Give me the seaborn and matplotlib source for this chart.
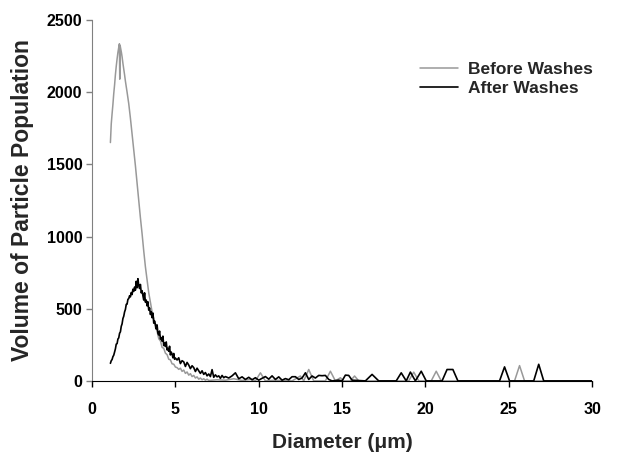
import matplotlib
matplotlib.use("Agg")
import matplotlib.pyplot as plt
import seaborn as sns
import pandas as pd

# ---- data ----
after_x = [1.10, 1.15, 1.20, 1.25, 1.30, 1.35, 1.40, 1.45, 1.50, 1.55, 1.60, 1.65, 1.70, 1.75,
           1.80, 1.85, 1.90, 1.95, 2.00, 2.05, 2.10, 2.15, 2.20, 2.25, 2.30, 2.35, 2.40, 2.45,
           2.50, 2.55, 2.60, 2.65, 2.70, 2.75, 2.80, 2.85, 2.90, 2.95, 3.00, 3.05, 3.10, 3.15,
           3.20, 3.25, 3.30, 3.35, 3.40, 3.45, 3.50, 3.55, 3.60, 3.65, 3.70, 3.75, 3.80, 3.85,
           3.90, 3.95, 4.00, 4.05, 4.10, 4.15, 4.20, 4.25, 4.30, 4.35, 4.40, 4.45, 4.50, 4.55,
           4.60, 4.65, 4.70, 4.75, 4.80, 4.85, 4.90, 4.95, 5.00,
           5.10, 5.20, 5.30, 5.40, 5.50, 5.60, 5.70, 5.80, 5.90, 6.00, 6.10, 6.20, 6.30, 6.40,
           6.50, 6.60, 6.70, 6.80, 6.90, 7.00, 7.10, 7.20, 7.30, 7.40, 7.50, 7.60, 7.70, 7.80,
           7.90, 8.00, 8.20, 8.40, 8.60, 8.80, 9.00, 9.20, 9.40, 9.60, 9.80, 10.00, 10.20, 10.40,
           10.60, 10.80, 11.00, 11.20, 11.40, 11.60, 11.80, 12.00, 12.20, 12.40, 12.60, 12.80,
           13.00, 13.20, 13.40, 13.60, 13.80, 14.00, 14.20, 14.40, 14.80, 15.00, 15.20, 15.40,
           15.60, 16.40, 16.80, 17.20, 18.25, 18.55, 18.85, 19.10, 19.40, 19.75, 20.05, 21.00,
           21.30, 21.65, 21.95, 24.45, 24.75, 25.05, 26.50, 26.80, 27.10, 30.00]
after_y = [122, 140, 148, 168, 178, 200, 222, 255, 258, 290, 298, 330, 340, 378,
           395, 432, 448, 478, 495, 530, 532, 565, 570, 590, 582, 612, 598, 635,
           620, 650, 628, 690, 645, 708, 660, 640, 668, 610, 625, 590, 560, 610,
           545, 560, 520, 548, 490, 505, 460, 480, 438, 470, 400, 415, 392, 360,
           388, 330, 318, 345, 290, 300, 275, 310, 245, 262, 238, 270, 215, 225,
           205, 240, 180, 200, 185, 160, 190, 150, 158,
           145, 160, 120, 140, 132, 100, 128, 110, 85, 105, 92, 65, 88, 70,
           52, 70, 45, 58, 35, 48, 30, 78, 25, 42, 28, 35, 18, 38,
           22, 30, 20, 35, 56, 15, 28, 10, 25, 8, 22, 5, 18, 30,
           12, 35, 10, 28, 5, 16, 8, 29, 29, 10, 20, 56,
           10, 34, 20, 38, 36, 38, 10, 0, 5, 0, 40, 38,
           5, 0, 45, 0, 0, 56, 0, 61, 0, 67, 0, 0,
           79, 79, 0, 0, 97, 0, 0, 115, 0, 0]

before_x = [1.10, 1.15, 1.20, 1.25, 1.30, 1.35, 1.40, 1.45, 1.50, 1.55, 1.60, 1.64, 1.66, 1.68,
            1.72, 1.76, 1.80, 1.85, 1.90, 1.95, 2.00, 2.10, 2.20, 2.30, 2.40, 2.50, 2.60, 2.70,
            2.80, 2.90, 3.00, 3.10, 3.20, 3.30, 3.40, 3.50, 3.60, 3.70, 3.80, 3.90, 4.00, 4.10,
            4.20, 4.30, 4.40, 4.50, 4.60, 4.70, 4.80, 4.90, 5.00, 5.10, 5.20, 5.30, 5.40, 5.50,
            5.60, 5.70, 5.80, 5.90, 6.00, 6.10, 6.20, 6.30, 6.40, 6.50, 6.60, 6.70, 6.80, 6.90,
            7.00, 7.50, 8.00, 8.50, 9.00, 9.50, 9.80, 10.10, 10.40, 11.00, 12.00, 12.50, 12.70,
            13.00, 13.30, 14.00, 14.30, 14.60, 14.90, 15.10, 15.50, 15.75, 16.00, 19.00, 19.30,
            19.60, 20.35, 20.65, 20.95, 25.35, 25.65, 25.95, 30.00]
before_y = [1651, 1780, 1850, 1915, 1990, 2050, 2121, 2180, 2230, 2275, 2310, 2335, 2090, 2325,
            2300, 2275, 2245, 2200, 2160, 2120, 2076, 2000, 1920, 1820, 1710, 1600, 1490, 1370,
            1250, 1130, 1020, 900, 790, 700, 610, 545, 478, 435, 372, 345, 292, 278,
            232, 226, 192, 182, 150, 146, 118, 116, 96, 92, 80, 88, 66, 75,
            52, 62, 40, 50, 30, 38, 20, 28, 12, 20, 8, 15, 5, 12,
            3, 8, 5, 15, 3, 10, 0, 56, 0, 5, 0, 34, 0,
            79, 0, 0, 67, 0, 22, 0, 0, 34, 0, 0, 61,
            0, 0, 67, 0, 0, 106, 0, 0]

series_labels = ["Before Washes", "After Washes"]
x_ticks = [0, 5, 10, 15, 20, 25, 30]
y_ticks = [0, 500, 1000, 1500, 2000, 2500]

# ---- plot ----
sns.set_style("ticks")
plt.rcParams["font.family"] = ["Liberation Sans", "DejaVu Sans"]
plt.rcParams["font.weight"] = "bold"

fig = plt.figure(figsize=(6.18, 4.54), dpi=100)
ax = fig.add_axes([0.149, 0.161, 0.809, 0.795])

before = pd.DataFrame({"x": before_x, "y": before_y})
after = pd.DataFrame({"x": after_x, "y": after_y})

sns.lineplot(data=before, x="x", y="y", ax=ax, color="#999999", lw=1.1,
             estimator=None, label=series_labels[0])
sns.lineplot(data=after, x="x", y="y", ax=ax, color="#000000", lw=1.2,
             estimator=None, label=series_labels[1])

ax.set_xlim(0, 30)
ax.set_ylim(0, 2500)
ax.set_xticks(x_ticks)
ax.set_yticks(y_ticks)
ax.tick_params(axis="both", labelsize=11.5, length=4, width=1, direction="out")
ax.tick_params(axis="y", colors="#808080", labelcolor="black", pad=3)
ax.tick_params(axis="x", colors="black", labelcolor="black", pad=11)
for lab in ax.get_xticklabels() + ax.get_yticklabels():
    lab.set_fontweight("bold")

sns.despine(ax=ax)
ax.spines["left"].set_color("#808080")
ax.spines["bottom"].set_color("black")

ax.set_xlabel("Diameter (\u03bcm)", fontsize=15, fontweight="bold", labelpad=12)
ax.set_ylabel("Volume of Particle Population", fontsize=16.5, fontweight="bold", labelpad=9)

leg = ax.legend(loc="upper left", bbox_to_anchor=(0.624, 0.926), frameon=False,
                fontsize=12.5, handlelength=2.2, handletextpad=0.57, labelspacing=0.2)
for t in leg.get_texts():
    t.set_fontweight("bold")

fig.savefig("out.png", dpi=100)
